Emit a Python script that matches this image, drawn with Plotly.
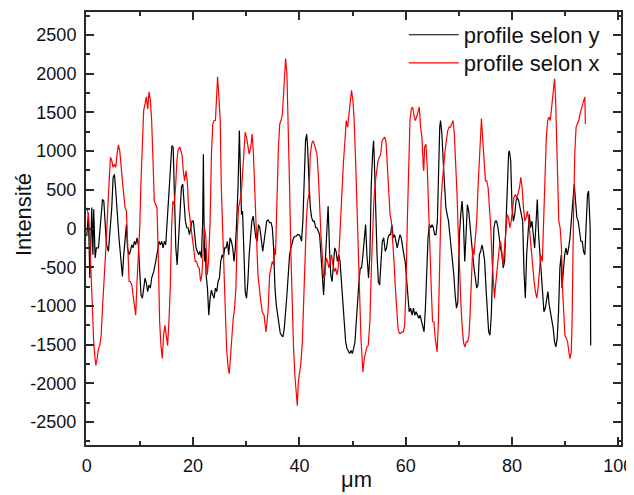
import plotly.graph_objects as go

# profile selon y (black)
x_y = [0.0,0.3,0.57,0.94,1.15,1.3,1.57,1.8,2.2,2.57,2.95,3.2,3.45,3.7,4.07,4.3,4.7,4.95,5.2,5.45,5.8,6.05,6.45,6.7,6.95,7.2,7.45,7.65,7.96,8.2,8.46,8.7,8.96,9.2,9.45,9.7,9.96,10.2,10.46,10.7,10.96,11.2,11.46,11.7,11.96,12.2,12.6,12.97,13.35,13.6,13.85,14.1,14.35,14.6,14.85,15.2,15.5,15.75,16.0,16.25,16.5,16.75,17.0,17.3,17.55,17.8,18.05,18.3,18.55,18.8,19.05,19.3,19.55,19.8,20.05,20.3,20.55,20.8,21.05,21.3,21.56,21.8,21.93,22.05,22.18,22.3,22.45,22.7,22.95,23.2,23.45,23.7,23.95,24.2,24.45,24.7,24.95,25.2,25.45,25.7,25.95,26.2,26.45,26.7,26.95,27.2,27.45,27.7,27.95,28.2,28.45,28.7,28.95,29.1,29.3,29.45,29.8,30.05,30.3,30.55,30.8,31.05,31.3,31.55,31.8,32.05,32.3,32.55,32.85,33.1,33.35,33.6,33.85,34.1,34.4,34.65,34.9,35.15,35.4,35.65,35.9,36.15,36.4,36.65,36.9,37.15,37.4,37.65,37.9,38.15,38.4,38.65,38.9,39.15,39.4,39.65,39.9,40.15,40.4,40.65,40.9,41.15,41.36,41.55,41.8,42.05,42.3,42.55,42.8,43.05,43.3,43.55,43.8,44.05,44.3,44.55,44.8,45.05,45.25,45.4,45.65,45.9,46.15,46.4,46.65,46.9,47.15,47.4,47.65,47.95,48.2,48.45,48.7,48.95,49.2,49.45,49.7,49.95,50.2,50.45,50.7,50.95,51.2,51.45,51.7,51.95,52.2,52.45,52.7,53.0,53.26,53.5,53.76,53.95,54.1,54.35,54.6,54.85,55.1,55.35,55.6,55.85,56.15,56.4,56.65,56.9,57.15,57.4,57.65,57.9,58.15,58.4,58.65,58.9,59.15,59.4,59.65,59.9,60.15,60.4,60.65,60.9,61.2,61.45,61.7,61.95,62.2,62.45,62.7,62.95,63.2,63.45,63.7,63.95,64.2,64.45,64.7,64.95,65.2,65.45,65.7,65.95,66.2,66.4,66.55,66.8,67.05,67.3,67.55,67.8,68.05,68.3,68.55,68.8,69.05,69.3,69.55,69.8,70.1,70.35,70.6,70.85,71.1,71.35,71.6,71.85,72.1,72.35,72.6,72.85,73.1,73.35,73.6,73.85,74.1,74.35,74.6,74.85,75.1,75.35,75.6,75.85,76.1,76.35,76.6,76.85,77.1,77.35,77.6,77.85,78.1,78.35,78.6,78.85,79.1,79.35,79.5,79.75,80.0,80.25,80.5,80.75,81.0,81.25,81.5,81.75,82.0,82.25,82.5,82.75,83.0,83.25,83.5,83.75,84.0,84.25,84.5,84.75,85.0,85.25,85.5,85.75,86.0,86.25,86.5,86.75,87.0,87.25,87.5,87.75,88.0,88.25,88.5,88.75,89.0,89.25,89.4,89.65,89.9,90.15,90.4,90.65,90.9,91.15,91.4,91.7,91.95,92.2,92.45,92.7,92.95,93.2,93.45,93.7,93.95,94.2,94.4,94.55,94.7,94.8]
int_y = [-100,200,-640,270,-340,250,-380,-250,-250,95,375,355,95,-210,-295,-80,270,660,700,485,95,-120,-425,-620,-340,-80,50,-250,-340,-295,-210,-250,-165,-210,-120,-210,-600,-860,-900,-770,-640,-705,-815,-730,-770,-640,-555,-425,-295,-165,-210,-165,-250,-165,-210,180,530,875,1070,1050,440,-250,-470,-80,270,530,575,270,95,10,10,-80,10,95,95,-80,-250,-295,-340,-295,-380,95,960,95,-425,-250,-600,-770,-1120,-900,-795,-860,-900,-770,-815,-685,-640,-425,-340,-380,-250,-250,-165,-340,-120,-165,-250,-425,-250,95,530,1265,440,180,225,-120,-815,-900,-685,-340,-80,95,160,10,-120,-165,50,10,-165,-295,-165,10,95,110,75,75,10,-250,-770,-990,-1120,-1290,-1355,-1380,-1400,-1290,-1120,-860,-600,-340,-250,-165,-120,-100,-100,-80,-80,-100,-165,95,745,1135,1220,1050,615,270,140,95,95,10,10,-35,-80,-340,-600,-860,-510,-80,180,290,-250,-600,-685,-510,-250,-295,-425,-340,-425,-730,-945,-1205,-1465,-1550,-1595,-1615,-1575,-1615,-1550,-1465,-1205,-860,-685,-510,-510,-340,-120,50,-340,-640,-340,530,960,1135,875,95,-340,-685,-730,-425,-165,-120,-295,-250,-120,-80,-80,50,-120,-80,-165,-250,-165,-80,-120,-250,-340,-425,-685,-945,-1075,-1030,-1120,-1030,-1120,-1075,-1120,-1160,-1120,-1205,-1290,-1335,-1030,-600,-120,50,10,50,10,-80,-80,95,875,1310,1395,1220,875,530,270,180,95,-80,-250,-425,-600,-860,-1030,-945,-100,180,355,95,-425,-80,310,225,10,-165,-340,-510,-640,-770,-730,-340,-295,-210,-295,-425,-770,-1120,-1335,-1380,-1120,-510,10,95,95,10,-165,-250,-340,-510,-425,95,615,960,1005,875,270,95,180,355,400,355,270,180,95,-555,-900,-340,10,180,10,95,-80,-250,50,375,-80,-340,-600,-945,-1075,-1030,-945,-815,-990,-1075,-1205,-1290,-1465,-1530,-1420,-1075,-510,-340,-770,-555,-340,-250,-340,-250,-120,95,270,575,355,140,95,-80,-165,-165,-295,-340,95,440,485,270,10,-1510]

# profile selon x (red)
x_x = [0.0,0.3,0.57,0.8,1.07,1.3,1.55,1.7,1.95,2.2,2.45,2.7,2.95,3.2,3.45,3.7,3.95,4.2,4.45,4.7,4.95,5.2,5.45,5.7,5.95,6.2,6.45,6.7,6.95,7.2,7.45,7.7,7.96,8.2,8.46,8.7,8.96,9.2,9.45,9.7,9.96,10.2,10.46,10.7,10.96,11.2,11.46,11.7,11.96,12.2,12.46,12.7,12.97,13.2,13.45,13.7,13.95,14.2,14.45,14.7,14.95,15.2,15.45,15.7,15.95,16.2,16.45,16.7,16.95,17.2,17.5,17.9,18.15,18.4,18.65,18.9,19.15,19.4,19.65,19.9,20.15,20.4,20.65,20.9,21.15,21.4,21.65,21.9,22.15,22.4,22.65,22.9,23.2,23.45,23.7,23.95,24.2,24.45,24.6,24.85,25.1,25.3,25.7,25.95,26.3,26.55,26.8,27.05,27.3,27.55,27.8,28.05,28.3,28.55,28.8,29.05,29.3,29.55,29.8,30.05,30.3,30.55,30.85,31.1,31.35,31.6,31.85,32.2,32.6,33.0,33.35,33.7,34.1,34.4,34.65,34.9,35.15,35.4,35.5,35.8,36.05,36.3,36.55,36.8,37.05,37.3,37.4,37.65,37.9,38.15,38.4,38.65,38.9,39.15,39.4,39.6,39.8,40.0,40.3,40.55,40.8,41.05,41.3,41.55,41.8,42.05,42.3,42.55,42.8,43.05,43.3,43.55,43.8,44.05,44.3,44.55,44.8,45.05,45.3,45.55,45.8,46.05,46.3,46.55,46.8,47.05,47.3,47.55,47.8,48.07,48.3,48.57,48.8,49.07,49.3,49.57,49.8,50.07,50.3,50.57,50.8,51.07,51.3,51.58,51.8,51.95,52.2,52.46,52.7,52.95,53.26,53.5,53.76,54.0,54.3,54.55,54.8,55.05,55.3,55.55,55.8,56.05,56.3,56.55,56.8,57.05,57.3,57.55,57.8,58.05,58.3,58.55,58.8,59.05,59.3,59.55,59.8,60.05,60.3,60.55,60.8,61.05,61.3,61.55,61.8,62.05,62.3,62.55,62.8,63.05,63.3,63.4,63.55,63.8,64.05,64.3,64.55,64.8,65.05,65.3,65.55,65.8,65.9,66.15,66.4,66.65,66.9,67.15,67.4,67.65,67.9,68.15,68.4,68.65,68.9,69.15,69.4,69.65,69.9,70.15,70.4,70.65,70.9,71.15,71.4,71.65,71.9,72.1,72.35,72.6,72.85,73.1,73.35,73.6,73.85,74.1,74.25,74.5,74.75,75.0,75.25,75.5,75.75,76.0,76.25,76.5,76.7,76.85,77.1,77.35,77.6,77.85,78.1,78.35,78.6,78.85,79.1,79.35,79.6,79.85,80.1,80.35,80.6,80.85,81.1,81.4,81.65,81.9,82.15,82.4,82.65,82.9,83.15,83.4,83.65,83.9,84.15,84.4,84.65,84.9,85.15,85.4,85.7,85.95,86.2,86.45,86.7,86.95,87.2,87.45,87.7,87.9,88.0,88.2,88.4,88.6,88.8,89.05,89.3,89.5,89.7,89.95,90.2,90.45,90.7,90.9,91.15,91.3,91.55,91.8,92.05,92.3,92.55,92.8,93.05,93.3,93.5,93.7,93.8]
int_x = [270,180,-165,-600,-990,-1465,-1680,-1770,-1680,-1550,-1510,-1380,-1030,-770,-510,-120,270,615,920,875,790,830,790,960,1080,1005,745,615,440,270,225,-250,-685,-685,-730,-860,-1030,-1120,-685,-340,10,615,1180,1525,1610,1700,1545,1765,1655,1395,875,355,310,270,-340,-1205,-1510,-1680,-1380,-1250,-1380,-1510,-1205,-770,10,355,310,530,875,1025,1050,960,745,615,745,615,270,140,10,-120,-295,-425,-425,-490,-510,-685,-600,-340,10,-120,-600,-425,95,960,1350,1395,1395,1740,1960,1700,1395,530,-340,-1030,-1550,-1770,-1875,-1640,-1380,-1160,-1030,-770,-80,270,355,440,700,960,1245,1180,1050,960,1050,1220,960,530,-80,-600,-860,-1075,-1120,-1335,-1075,-600,-510,-425,-470,-250,-340,530,1050,1350,1395,1480,1830,2130,2195,2000,1395,530,-340,-990,-1550,-1900,-2115,-2290,-1985,-1855,-1725,-1465,-1030,-425,95,355,440,960,1090,1135,1090,1005,960,700,270,-80,-340,-640,-600,-380,-425,-510,-425,-340,-470,-555,-510,-600,-510,-120,95,530,875,1135,1395,1310,1480,1655,1785,1655,1395,875,310,-340,-990,-1420,-1680,-1855,-1680,-1575,-1530,-1510,-1205,-600,-80,355,615,790,875,920,960,1135,1155,1180,1115,830,530,180,95,-120,-425,-770,-1075,-1290,-1355,-1355,-1335,-1335,-1250,-770,95,875,1395,1545,1570,1460,1395,1440,1525,1570,1310,1180,790,745,1050,1090,790,180,-340,-770,-1205,-1205,-1420,-1550,-1595,-1205,-340,355,615,875,1005,1135,1265,1310,1310,1350,1395,1220,875,440,-80,-600,-1000,-1300,-1480,-1530,-1465,-1465,-1380,-1120,-685,-250,-340,-165,95,530,960,1395,1420,1135,790,615,615,530,270,10,-425,-770,-900,-770,-600,-340,-250,-165,-340,-470,-250,-80,180,140,10,95,270,400,440,400,440,530,660,530,270,95,140,225,95,-120,-250,-470,-685,-815,-900,-770,-600,-340,-425,95,745,1180,1395,1440,1395,1570,1740,1915,1935,1655,1180,530,95,10,-250,-770,-1120,-1380,-1420,-1465,-1595,-1680,-1595,-1205,95,960,1310,1350,1395,1480,1570,1610,1655,1700,1350]

y_tickvals = [-2500, -2000, -1500, -1000, -500, 0, 500, 1000, 1500, 2000, 2500]
y_ticktext = ["-2500", "-2000", "-1500", "-1000", "-500", "0", "500", "1000", "1500", "2000", "2500"]
x_tickvals = [0, 20, 40, 60, 80, 100]
x_ticktext = ["0", "20", "40", "60", "80", "100"]

FONT = "Liberation Sans, Arial"

fig = go.Figure()
fig.add_trace(go.Scatter(x=x_y, y=int_y, mode="lines", name="profile selon y",
                         line=dict(color="#000000", width=1.2), legend="legend"))
fig.add_trace(go.Scatter(x=x_x, y=int_x, mode="lines", name="profile selon x",
                         line=dict(color="#ff0000", width=1.2), legend="legend2"))

axis_common = dict(showline=True, linecolor="#2a2a2a", linewidth=2, mirror="allticks",
                   ticks="inside", ticklen=8, tickwidth=1.5, tickcolor="#2a2a2a",
                   showgrid=False, zeroline=False, automargin=False,
                   tickfont=dict(family=FONT, size=18, color="#111"))

fig.update_xaxes(**axis_common, range=[-0.15, 100.5], tickmode="array",
                 tickvals=x_tickvals, ticktext=x_ticktext,
                 minor=dict(ticks="inside", ticklen=4, tickwidth=1.5, tickcolor="#2a2a2a", dtick=10, tick0=0),
                 ticklabelstandoff=3)
fig.update_yaxes(**axis_common, range=[-2797, 2797], tickmode="array",
                 tickvals=y_tickvals, ticktext=y_ticktext,
                 minor=dict(ticks="inside", ticklen=4, tickwidth=1.5, tickcolor="#2a2a2a", dtick=250, tick0=0),
                 ticklabelstandoff=4)

fig.add_annotation(text="Intensité", textangle=-90, xref="paper", yref="paper",
                   x=0, y=0.531, xanchor="center", yanchor="middle", xshift=-63,
                   showarrow=False, font=dict(family=FONT, size=22, color="#111"))
fig.add_annotation(text="μm", xref="paper", yref="paper",
                   x=0.5065, y=0, xanchor="center", yanchor="bottom", yshift=-49,
                   showarrow=False, font=dict(family=FONT, size=22, color="#111"))

leg_common = dict(xanchor="left", yanchor="middle", bgcolor="rgba(0,0,0,0)",
                  borderwidth=0, itemwidth=50,
                  font=dict(family=FONT, size=22, color="#111"))
fig.update_layout(
    width=634, height=495,
    margin=dict(l=78, r=21, t=4, b=58),
    paper_bgcolor="white", plot_bgcolor="white",
    showlegend=True,
    legend=dict(x=0.594, y=0.947, **leg_common),
    legend2=dict(x=0.594, y=0.882, **leg_common),
)

fig.write_html("out.html")
